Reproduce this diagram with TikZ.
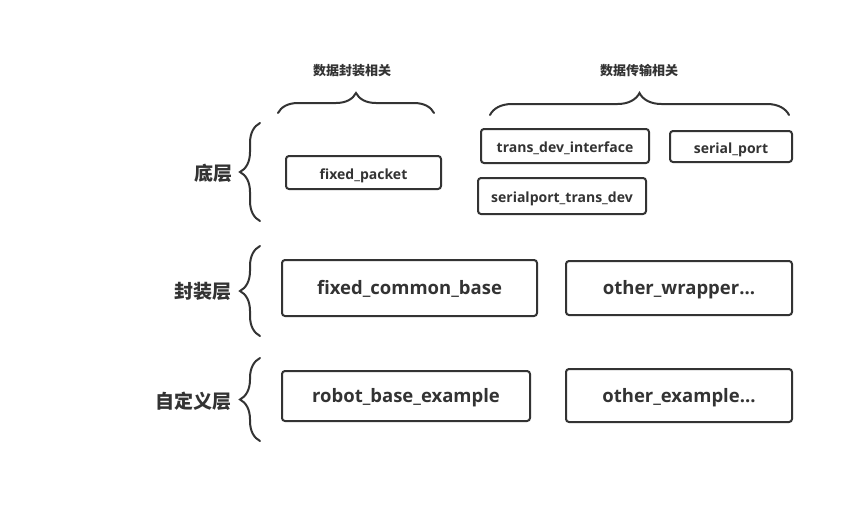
\documentclass[tikz,border=0pt]{standalone}
\usepackage{fontspec}
\setmainfont{Open Sans}
\newfontfamily\cjk{Noto Sans CJK SC}
\usetikzlibrary{%
    decorations.pathreplacing%
}
\definecolor{ink}{HTML}{333333}

\begin{document}
\begin{tikzpicture}[
    x=1pt,y=-1pt,
    layer/.style={font={\fontsize{19}{19}\selectfont\cjk\bfseries},text=ink},
    group/.style={font={\fontsize{13}{13}\selectfont\cjk\bfseries},text=ink},
    small/.style={draw=ink,line width=2pt,rounded corners=3pt,text=ink,
        font={\fontsize{14}{14}\selectfont\bfseries},inner sep=0pt,
        text height=1.32em,text depth=0em},
    big/.style={small,font={\fontsize{18.5}{18.5}\selectfont\bfseries}},
    curly/.style={
        % Brace pointing to the left of the path direction
        decorate,decoration={brace,amplitude=20pt,aspect=0.5},
        draw=ink,line width=2pt,line cap=round},
    ]
    \useasboundingbox (0,0) rectangle (854,504);
    % Group names
    \node[group] (packing) at (352,71) {数据封装相关};
    \node[group] (transfer) at (639,71) {数据传输相关};
    % Layer names
    \node[layer] (bottom) at (213,173) {底层};
    \node[layer] (wrapper) at (203,291) {封装层};
    \node[layer] (custom) at (193,401) {自定义层};
    % Bottom layer modules
    \node[small,minimum width=155,minimum height=33]
         (packet) at (363.5,172.5) {fixed\_packet};
    \node[small,minimum width=168,minimum height=34]
         (interface) at (565,146) {trans\_dev\_interface};
    \node[small,minimum width=122,minimum height=31]
         (port) at (731,146.5) {serial\_port};
    \node[small,minimum width=168,minimum height=36]
         (transdev) at (562,196) {serialport\_trans\_dev};
    % Wrapper layer modules
    \node[big,minimum width=255,minimum height=56]
         (common) at (409.5,288) {fixed\_common\_base};
    \node[big,minimum width=226,minimum height=54]
         (otherwrap) at (679,288) {other\_wrapper...};
    % Custom layer modules
    \node[big,minimum width=248,minimum height=50]
         (robot) at (406,396) {robot\_base\_example};
    \node[big,minimum width=226,minimum height=53]
         (otherex) at (679,395.5) {other\_example...};
    % Top braces
    \draw[curly] (278,113) -- (434,113);
    \draw[curly,decoration={amplitude=22pt}] (490,115) -- (789,115);
    % Left braces
    \draw[curly] (260,221) -- (260,123);
    \draw[curly] (260,336) -- (260,246);
    \draw[curly] (260,441) -- (260,358);
\end{tikzpicture}
\end{document}
